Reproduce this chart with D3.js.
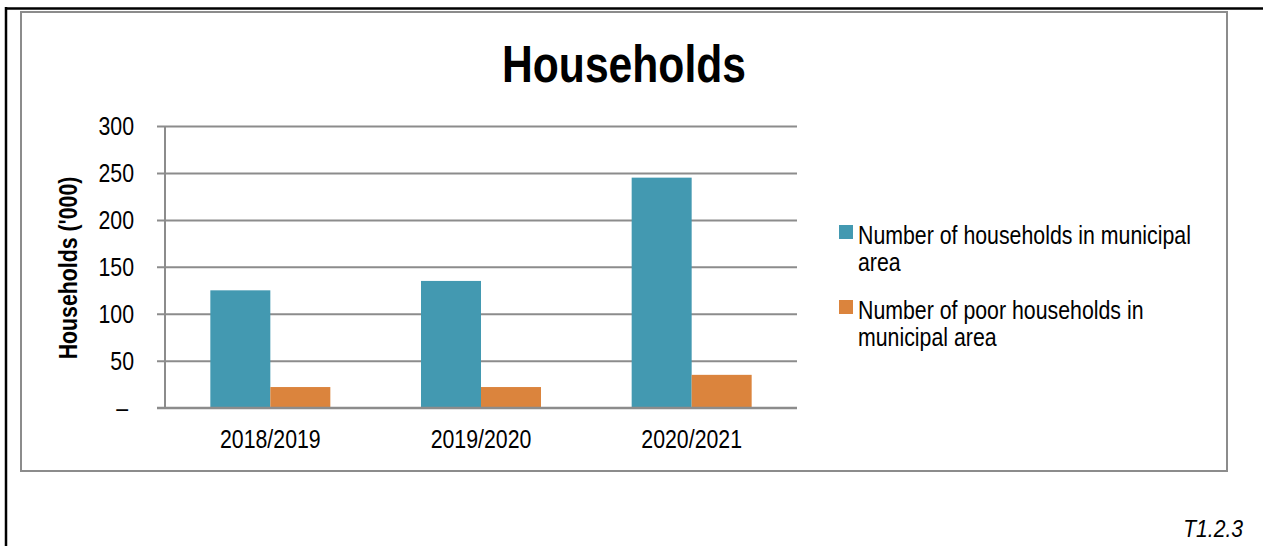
<!DOCTYPE html>
<html>
<head>
<meta charset="utf-8">
<script src="https://cdn.jsdelivr.net/npm/d3@7/dist/d3.min.js"></script>
<style>
  html, body { margin: 0; padding: 0; background: #fff; }
  svg { display: block; }
</style>
</head>
<body>
<svg id="chart" width="1263" height="546"></svg>
<script>
// Household counts per financial year, in thousands
const years = ["2018/2019", "2019/2020", "2020/2021"];
const totalHouseholds = [125, 135, 245];
const poorHouseholds = [22, 22, 35];
const seriesNames = ["Number of households in municipal area", "Number of poor households in municipal area"];
const legendLines = [
  ["Number of households in municipal", "area"],
  ["Number of poor households in", "municipal area"]
];
const seriesColors = ["#4399B1", "#DB843D"];
const yTicks = [0, 50, 100, 150, 200, 250, 300];

const svg = d3.select("#chart");
const FONT = '"Liberation Sans", Arial, sans-serif';
const GRID = "#8c8c8c";
const SX = 0.82; // condensed face: horizontal squeeze of the sans glyphs

// outer document frame
svg.append("line").attr("x1", 6).attr("x2", 1263).attr("y1", 8.5).attr("y2", 8.5)
  .attr("stroke", "#000").attr("stroke-width", 2.5);
svg.append("line").attr("x1", 6).attr("x2", 6).attr("y1", 7).attr("y2", 546)
  .attr("stroke", "#000").attr("stroke-width", 2.5);

// chart area border
svg.append("rect").attr("x", 21).attr("y", 12).attr("width", 1206).attr("height", 459)
  .attr("fill", "#fff").attr("stroke", GRID).attr("stroke-width", 2);

// title
svg.append("text").attr("transform", `translate(624,81.5) scale(${SX},1)`)
  .attr("text-anchor", "middle")
  .attr("font-family", FONT).attr("font-weight", "bold").attr("font-size", 52)
  .attr("fill", "#000").text("Households");

const plot = { left: 165, right: 797, top: 126, bottom: 407.7 };

const x0 = d3.scaleBand().domain(years).range([plot.left, plot.right])
  .paddingInner(0.4304).paddingOuter(0.2152);
const x1 = d3.scaleBand().domain(d3.range(seriesNames.length)).range([0, x0.bandwidth()]);
const y = d3.scaleLinear().domain([0, 300]).range([plot.bottom, plot.top]);

// horizontal gridlines with ticks extending left of the axis
const yAxis = d3.axisLeft(y).tickValues(yTicks)
  .tickSize(-(plot.right - plot.left)).tickSizeOuter(0)
  .tickFormat(d => d === 0 ? "\u2013" : d3.format("d")(d));
const gy = svg.append("g").attr("transform", `translate(${plot.left},0)`).call(yAxis);
gy.select(".domain").remove();
gy.selectAll(".tick line").attr("stroke", GRID).attr("stroke-width", 2)
  .attr("x1", -8);
gy.selectAll(".tick text").attr("font-family", FONT).attr("font-size", 26)
  .attr("fill", "#000").attr("x", 0).attr("dy", "0.34em")
  .attr("transform", d => `translate(${d === 0 ? -37 : -31},0) scale(${SX},1)`);

// bars
const rows = years.map((yr, i) => ({ year: yr, values: [totalHouseholds[i], poorHouseholds[i]] }));
const groups = svg.append("g").selectAll("g").data(rows).join("g")
  .attr("transform", d => `translate(${x0(d.year)},0)`);
groups.selectAll("rect").data(d => d.values.map((v, k) => ({ k, v }))).join("rect")
  .attr("x", d => x1(d.k)).attr("width", x1.bandwidth())
  .attr("y", d => y(d.v)).attr("height", d => y(0) - y(d.v))
  .attr("fill", d => seriesColors[d.k]);

// vertical axis line
svg.append("line").attr("x1", plot.left).attr("x2", plot.left)
  .attr("y1", plot.top).attr("y2", plot.bottom + 1)
  .attr("stroke", GRID).attr("stroke-width", 2);

// category axis
const xAxis = d3.axisBottom(x0).tickSize(0).tickSizeOuter(0);
const gx = svg.append("g").attr("transform", `translate(0,${plot.bottom})`).call(xAxis);
gx.select(".domain").remove();
gx.selectAll(".tick text").attr("font-family", FONT).attr("font-size", 26)
  .attr("fill", "#000").attr("y", 0).attr("dy", 0)
  .attr("transform", `translate(0,40.5) scale(${SX},1)`);
svg.append("line").attr("x1", plot.left - 8).attr("x2", plot.right)
  .attr("y1", plot.bottom).attr("y2", plot.bottom)
  .attr("stroke", GRID).attr("stroke-width", 2);

// y-axis title
svg.append("text").attr("transform", `translate(77,268) rotate(-90) scale(${SX},1)`)
  .attr("text-anchor", "middle").attr("font-family", FONT).attr("font-weight", "bold")
  .attr("font-size", 26).attr("fill", "#000").text("Households ('000)");

// legend
const legendTop = [225, 300];
const legend = svg.append("g").selectAll("g").data(seriesNames).join("g")
  .attr("transform", (d, i) => `translate(839,${legendTop[i]})`);
legend.append("rect").attr("width", 14).attr("height", 14)
  .attr("fill", (d, i) => seriesColors[i]);
legend.append("text").attr("transform", `translate(19,0) scale(${SX},1)`)
  .attr("font-family", FONT).attr("font-size", 26).attr("fill", "#000")
  .selectAll("tspan").data((d, i) => legendLines[i]).join("tspan")
  .attr("x", 0).attr("y", (d, j) => 18.5 + j * 28).text(d => d);

// table reference
svg.append("text").attr("transform", `translate(1243,536.5) scale(0.88,1)`)
  .attr("text-anchor", "end")
  .attr("font-family", FONT).attr("font-style", "italic")
  .attr("font-size", 24).attr("fill", "#000").text("T1.2.3");
</script>
</body>
</html>
